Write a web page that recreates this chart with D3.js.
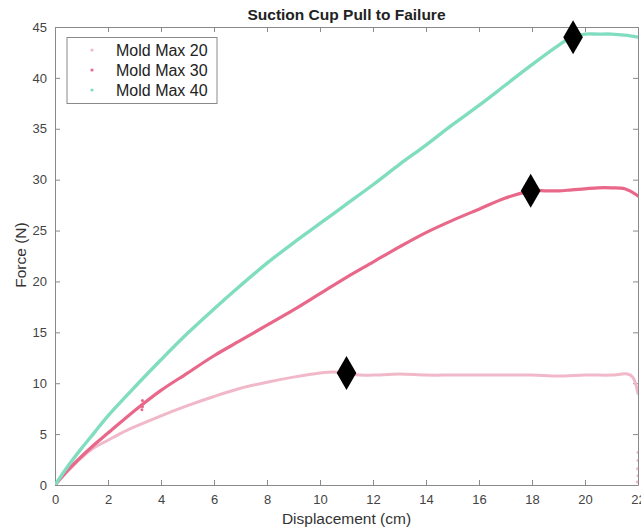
<!DOCTYPE html>
<html><head><meta charset="utf-8">
<script src="https://cdn.jsdelivr.net/npm/d3@7"></script>
<style>
body{margin:0;background:#fff;}
svg{display:block;font-family:Helvetica,"Liberation Sans",Arial,sans-serif;}
</style></head>
<body><svg id="c" width="641" height="531"></svg>
<script>
// ---- data ----
const seriesNames = ["Mold Max 20", "Mold Max 30", "Mold Max 40"];
const seriesColors = ["#F1B8C9", "#E9688A", "#80DDC0"];

const mm20X = [0, 0.5, 1, 1.5, 2, 2.5, 3, 4, 5, 6, 7, 8, 9, 10, 10.5, 11, 11.5, 12, 13, 14, 15, 16, 17, 18, 19, 20, 21, 21.6, 21.8, 22];
const mm20Y = [0, 1.4, 2.7, 3.7, 4.4, 5.1, 5.7, 6.8, 7.8, 8.7, 9.5, 10.1, 10.6, 11.0, 11.1, 11.0, 10.8, 10.8, 10.9, 10.8, 10.8, 10.8, 10.8, 10.8, 10.7, 10.8, 10.8, 10.9, 10.6, 9.0];

const mm30X = [0, 0.5, 1, 1.5, 2, 3, 4, 5, 6, 7, 8, 9, 10, 11, 12, 13, 14, 15, 16, 17, 18, 18.5, 19, 19.5, 20, 20.5, 21, 21.5, 22];
const mm30Y = [0, 1.5, 2.8, 4.0, 5.1, 7.3, 9.3, 11.0, 12.7, 14.2, 15.7, 17.2, 18.8, 20.4, 21.9, 23.4, 24.8, 26.0, 27.1, 28.2, 28.9, 28.9, 28.9, 29.0, 29.1, 29.2, 29.2, 29.1, 28.4];

const mm40X = [0, 0.5, 1, 1.5, 2, 3, 4, 5, 6, 7, 8, 9, 10, 11, 12, 13, 14, 15, 16, 17, 18, 19, 19.5, 20, 20.5, 21, 21.5, 22];
const mm40Y = [0, 1.9, 3.6, 5.2, 6.8, 9.6, 12.3, 14.9, 17.3, 19.6, 21.8, 23.8, 25.7, 27.6, 29.5, 31.5, 33.4, 35.4, 37.3, 39.3, 41.3, 43.2, 44.0, 44.3, 44.3, 44.3, 44.2, 44.0];

// stray data points
const mm20StrayX = [22, 22, 21.98, 22, 21.97];
const mm20StrayY = [3.2, 2.4, 1.6, 0.9, 0.3];
const mm30StrayX = [3.28, 3.3, 3.3];
const mm30StrayY = [7.4, 7.7, 8.3];

// failure points (diamonds)
const failX = [11, 17.95, 19.55];
const failY = [11.0, 28.9, 44.0];

const xTicks = [0, 2, 4, 6, 8, 10, 12, 14, 16, 18, 20, 22];
const yTicks = [0, 5, 10, 15, 20, 25, 30, 35, 40, 45];

const titleText = "Suction Cup Pull to Failure";
const xLabel = "Displacement (cm)";
const yLabel = "Force (N)";

// ---- layout ----
const svg = d3.select("#c");
const L = 55, R = 638, T = 27, B = 485;
const x = d3.scaleLinear().domain([0, 22]).range([L, R]);
const y = d3.scaleLinear().domain([0, 45]).range([B, T]);
const axisColor = "#8a8a8a", textColor = "#444";

svg.append("defs").append("clipPath").attr("id", "clip")
  .append("rect").attr("x", L).attr("y", T).attr("width", R - L).attr("height", B - T);

function styleAxis(g) {
  g.selectAll(".domain").attr("stroke", axisColor);
  g.selectAll(".tick line").attr("stroke", axisColor);
  g.selectAll(".tick text").attr("fill", textColor).attr("font-size", 13);
}
svg.append("g").attr("transform", `translate(0,${B})`)
  .call(d3.axisBottom(x).tickValues(xTicks).tickSize(-5).tickPadding(10).tickSizeOuter(0))
  .call(styleAxis);
svg.append("g").attr("transform", `translate(0,${T})`)
  .call(d3.axisTop(x).tickValues(xTicks).tickSize(-5).tickFormat("").tickSizeOuter(0))
  .call(styleAxis);
svg.append("g").attr("transform", `translate(${L},0)`)
  .call(d3.axisLeft(y).tickValues(yTicks).tickSize(-5).tickPadding(8).tickSizeOuter(0))
  .call(styleAxis);
svg.append("g").attr("transform", `translate(${R},0)`)
  .call(d3.axisRight(y).tickValues(yTicks).tickSize(-5).tickFormat("").tickSizeOuter(0))
  .call(styleAxis);

const series = [
  {xs: mm20X, ys: mm20Y, sx: mm20StrayX, sy: mm20StrayY, w: 3},
  {xs: mm30X, ys: mm30Y, sx: mm30StrayX, sy: mm30StrayY, w: 3.2},
  {xs: mm40X, ys: mm40Y, sx: [], sy: [], w: 3.4}
];
const line = d3.line().x(d => x(d[0])).y(d => y(d[1])).curve(d3.curveCatmullRom.alpha(0.5));
const plot = svg.append("g").attr("clip-path", "url(#clip)");
series.forEach((s, i) => {
  plot.append("path").datum(s.xs.map((v, k) => [v, s.ys[k]]))
    .attr("d", line).attr("fill", "none").attr("stroke", seriesColors[i])
    .attr("stroke-width", s.w).attr("stroke-linejoin", "round").attr("stroke-linecap", "round");
  plot.selectAll(null).data(s.sx.map((v, k) => [v, s.sy[k]])).enter().append("circle")
    .attr("cx", d => x(d[0])).attr("cy", d => y(d[1])).attr("r", 1.5).attr("fill", seriesColors[i]);
});

svg.selectAll(".fail").data(failX.map((v, k) => [v, failY[k]])).enter().append("path")
  .attr("class", "fail")
  .attr("transform", d => `translate(${x(d[0])},${y(d[1])})`)
  .attr("d", d3.symbol().type(d3.symbolDiamond).size(334)).attr("fill", "#000");

svg.append("text").attr("x", (L + R) / 2).attr("y", 20).attr("text-anchor", "middle")
  .attr("font-size", 15.5).attr("font-weight", "bold").attr("fill", "#222").text(titleText);
svg.append("text").attr("x", (L + R) / 2).attr("y", 524).attr("text-anchor", "middle")
  .attr("font-size", 15.5).attr("fill", "#333").text(xLabel);
svg.append("text").attr("transform", `translate(26,${(T + B) / 2 - 1}) rotate(-90)`)
  .attr("text-anchor", "middle").attr("font-size", 15.5).attr("fill", "#333").text(yLabel);

const lg = svg.append("g");
lg.append("rect").attr("x", 67).attr("y", 37.5).attr("width", 150).attr("height", 66)
  .attr("fill", "#fff").attr("stroke", axisColor).attr("stroke-width", 1);
seriesNames.forEach((n, i) => {
  const cy = 50 + i * 20;
  lg.append("circle").attr("cx", 92).attr("cy", cy).attr("r", 1.6).attr("fill", seriesColors[i]);
  lg.append("text").attr("x", 116).attr("y", cy + 5.5).attr("font-size", 16).attr("fill", "#222").text(n);
});
</script></body></html>
